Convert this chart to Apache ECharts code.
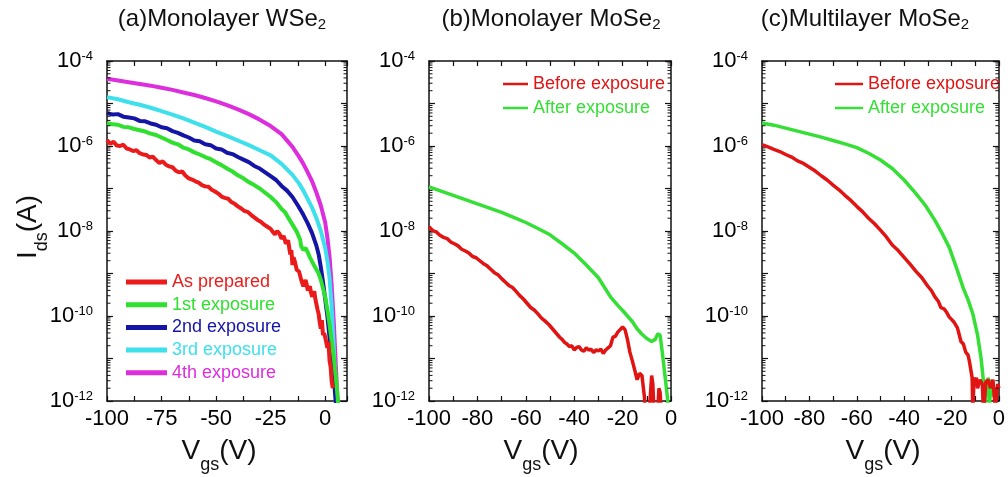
<!DOCTYPE html>
<html><head><meta charset="utf-8">
<script src="https://cdn.jsdelivr.net/npm/echarts@6/dist/echarts.min.js"></script>
<style>html,body{margin:0;padding:0;background:#fff}#c{width:1008px;height:477px}</style>
</head><body><div id="c"></div><script>
// ---- data: [Vgs (V), log10(Ids / A)] ----
// (a) Monolayer WSe2
const aAsPrepared = [[-100,-5.86],[-98.5,-5.95],[-97,-5.9],[-95.5,-5.99],[-94,-6.0],[-92.5,-5.97],[-91,-6.06],[-89.5,-6.08],[-88,-6.12],[-86.5,-6.1],[-85,-6.17],[-83.5,-6.2],[-82,-6.21],[-80.5,-6.27],[-79,-6.25],[-77.5,-6.33],[-76,-6.4],[-74.5,-6.36],[-73,-6.44],[-71.5,-6.48],[-70,-6.5],[-68.5,-6.58],[-67,-6.62],[-65.5,-6.6],[-64,-6.7],[-62.5,-6.76],[-61,-6.79],[-59.5,-6.83],[-58,-6.86],[-56.5,-6.92],[-55,-6.95],[-53.5,-6.96],[-52,-7.03],[-50.5,-7.07],[-49,-7.12],[-47.5,-7.19],[-46,-7.22],[-44.5,-7.24],[-43,-7.32],[-41.5,-7.36],[-40,-7.42],[-38.5,-7.47],[-37,-7.53],[-35.5,-7.55],[-34,-7.62],[-32.5,-7.68],[-31,-7.74],[-29.5,-7.78],[-28,-7.85],[-26.5,-7.9],[-25,-7.95],[-24,-8.02],[-23,-8.08],[-22,-8.0],[-21,-8.06],[-20,-8.18],[-19,-8.12],[-18,-8.3],[-17,-8.22],[-16,-8.55],[-15.5,-8.45],[-15,-8.8],[-14.5,-8.62],[-14,-8.7],[-13,-8.92],[-12,-8.95],[-11.5,-9.05],[-11,-9.15],[-10,-9.3],[-9,-9.15],[-8.5,-9.25],[-8,-9.4],[-7,-9.3],[-6.5,-9.45],[-6,-9.55],[-5,-9.42],[-4.5,-9.6],[-4,-9.62],[-3.5,-9.85],[-3,-9.95],[-2.5,-10.15],[-2,-10.3],[-1.5,-10.1],[-1,-10.45],[-0.5,-10.4],[0,-10.5],[0.5,-10.62],[1,-10.75],[1.5,-10.6],[2,-11.05],[2.5,-11.2],[3,-11.55],[3.5,-11.7]];
const a1stExposure = [[-100,-5.46],[-97.5,-5.49],[-95,-5.5],[-92.5,-5.55],[-90,-5.56],[-87.5,-5.6],[-85,-5.63],[-82.5,-5.66],[-80,-5.71],[-77.5,-5.74],[-75,-5.8],[-72.5,-5.86],[-70,-5.92],[-67.5,-5.96],[-65,-6.04],[-62.5,-6.08],[-60,-6.15],[-57.5,-6.2],[-55,-6.26],[-52.5,-6.31],[-50,-6.38],[-47.5,-6.45],[-45,-6.53],[-42.5,-6.6],[-40,-6.69],[-37.5,-6.76],[-35,-6.85],[-32.5,-6.92],[-30,-7.0],[-27.5,-7.1],[-25,-7.2],[-22.5,-7.32],[-20,-7.48],[-18.5,-7.55],[-17,-7.68],[-15,-7.85],[-13,-8.02],[-11.5,-8.2],[-11,-8.36],[-10,-8.45],[-9,-8.4],[-8,-8.5],[-7,-8.62],[-5,-8.82],[-3,-9.0],[-2,-9.15],[-1,-9.35],[0,-9.55],[1,-9.85],[2,-10.2],[3,-10.6],[4,-11.0],[5,-11.5],[6,-12.1]];
const a2ndExposure = [[-100,-5.22],[-97.5,-5.26],[-95,-5.25],[-92.5,-5.31],[-90,-5.33],[-87.5,-5.35],[-85,-5.41],[-82.5,-5.42],[-80,-5.47],[-77.5,-5.5],[-75,-5.56],[-72.5,-5.58],[-70,-5.65],[-67.5,-5.69],[-65,-5.75],[-62.5,-5.8],[-60,-5.87],[-57.5,-5.89],[-55,-5.96],[-52.5,-5.98],[-50,-6.06],[-47.5,-6.08],[-45,-6.16],[-42.5,-6.19],[-40,-6.26],[-37.5,-6.32],[-35,-6.38],[-32.5,-6.47],[-30,-6.53],[-27.5,-6.62],[-25,-6.71],[-22.5,-6.8],[-20,-6.94],[-17.5,-7.05],[-15,-7.2],[-12.5,-7.4],[-10,-7.62],[-8,-7.82],[-6,-8.05],[-4,-8.35],[-3,-8.55],[-2,-8.85],[-1,-9.2],[0,-9.6],[1,-10.0],[2,-10.5],[3,-11.0],[4,-11.5],[5,-12.1]];
const a3rdExposure = [[-100,-4.85],[-95,-4.9],[-90,-4.97],[-85,-5.03],[-80,-5.1],[-75,-5.18],[-70,-5.26],[-65,-5.35],[-60,-5.45],[-55,-5.55],[-50,-5.66],[-45,-5.76],[-40,-5.87],[-35,-5.98],[-30,-6.1],[-25,-6.22],[-20,-6.42],[-15,-6.68],[-12,-6.88],[-10,-7.05],[-8,-7.25],[-6,-7.45],[-4,-7.7],[-2,-8.0],[0,-8.4],[1,-8.7],[2,-9.1],[3,-9.8],[4,-10.8],[4.5,-11.5],[5,-12.2]];
const a4thExposure = [[-100,-4.42],[-95,-4.46],[-90,-4.5],[-85,-4.54],[-80,-4.58],[-75,-4.63],[-70,-4.68],[-65,-4.74],[-60,-4.8],[-55,-4.87],[-50,-4.95],[-45,-5.04],[-40,-5.14],[-35,-5.25],[-30,-5.38],[-25,-5.53],[-20,-5.72],[-15,-6.02],[-12,-6.25],[-10,-6.42],[-8,-6.62],[-6,-6.83],[-4,-7.1],[-2,-7.4],[0,-7.8],[1,-8.15],[2,-8.6],[3,-9.3],[4,-10.2],[5,-11.3],[6,-12.3]];
// (b) Monolayer MoSe2
const bBefore = [[-100,-7.9],[-98.5,-7.99],[-97,-8.02],[-95.5,-8.1],[-94,-8.15],[-92.5,-8.18],[-91,-8.26],[-89.5,-8.3],[-88,-8.35],[-86.5,-8.43],[-85,-8.47],[-83.5,-8.52],[-82,-8.6],[-80.5,-8.63],[-79,-8.7],[-77.5,-8.77],[-76,-8.82],[-74.5,-8.9],[-73,-8.98],[-71.5,-9.03],[-70,-9.12],[-68.5,-9.2],[-67,-9.28],[-65.5,-9.33],[-64,-9.42],[-62.5,-9.52],[-61,-9.6],[-59.5,-9.7],[-58,-9.8],[-56.5,-9.86],[-55,-9.95],[-53.5,-10.05],[-52,-10.12],[-50.5,-10.2],[-49,-10.3],[-47.5,-10.4],[-46,-10.5],[-45,-10.55],[-44,-10.62],[-43,-10.66],[-42,-10.72],[-41,-10.7],[-40,-10.8],[-39,-10.74],[-38,-10.72],[-37,-10.8],[-36,-10.83],[-35,-10.75],[-34,-10.8],[-33,-10.78],[-32,-10.86],[-31,-10.8],[-30,-10.82],[-29,-10.78],[-28,-10.88],[-27,-10.8],[-26,-10.75],[-25,-10.7],[-24,-10.5],[-23,-10.48],[-22,-10.38],[-21,-10.32],[-20,-10.26],[-19,-10.32],[-18,-10.55],[-17,-10.85],[-16,-11.05],[-15,-11.27],[-14,-11.5],[-13,-11.35],[-12,-11.4],[-11,-11.9],[-10.5,-12.3],[-9,-12.3],[-8,-11.4],[-7.5,-11.6],[-7,-12.3],[-5.5,-12.3],[-5,-11.7],[-4.5,-11.8],[-4,-12.3]];
const bAfter = [[-100,-6.96],[-95,-7.06],[-90,-7.16],[-85,-7.26],[-80,-7.36],[-75,-7.46],[-70,-7.56],[-65,-7.68],[-60,-7.8],[-55,-7.94],[-50,-8.09],[-45,-8.3],[-40,-8.52],[-35,-8.8],[-30,-9.1],[-25,-9.55],[-22,-9.75],[-20,-9.87],[-18,-10.0],[-16,-10.13],[-14,-10.3],[-12,-10.43],[-10,-10.53],[-8,-10.6],[-6.5,-10.55],[-5.5,-10.42],[-4.5,-10.45],[-3.5,-10.9],[-2.5,-11.4],[-1.5,-11.9],[-1,-12.3]];
// (c) Multilayer MoSe2
const cBefore = [[-100,-5.97],[-97.5,-6.02],[-95,-6.08],[-92.5,-6.13],[-90,-6.2],[-87.5,-6.26],[-85,-6.35],[-82.5,-6.41],[-80,-6.5],[-77.5,-6.59],[-75,-6.7],[-72.5,-6.8],[-70,-6.92],[-67.5,-7.03],[-65,-7.16],[-62.5,-7.28],[-60,-7.42],[-57.5,-7.55],[-55,-7.7],[-52.5,-7.83],[-50,-7.98],[-47.5,-8.14],[-45,-8.33],[-42.5,-8.46],[-40,-8.62],[-37.5,-8.78],[-35,-8.95],[-32.5,-9.1],[-30,-9.3],[-28.5,-9.4],[-27,-9.55],[-25.5,-9.66],[-24.5,-9.8],[-23,-9.84],[-22,-9.92],[-21,-10.02],[-20,-10.08],[-19,-10.14],[-17.5,-10.28],[-16,-10.6],[-15,-10.66],[-14,-10.85],[-13,-10.92],[-12.5,-11.05],[-11.3,-11.45],[-11,-12.3],[-10.5,-11.45],[-10,-11.6],[-9.5,-11.45],[-9,-11.7],[-8,-11.5],[-7,-11.6],[-6.5,-12.3],[-5.5,-11.55],[-4.5,-11.5],[-3.5,-11.7],[-2.5,-11.5],[-1.5,-12.2],[-0.5,-11.6],[0,-11.7]];
const cAfter = [[-100,-5.46],[-95,-5.51],[-90,-5.58],[-85,-5.65],[-80,-5.72],[-75,-5.79],[-70,-5.87],[-65,-5.95],[-60,-6.04],[-55,-6.17],[-50,-6.33],[-45,-6.53],[-40,-6.8],[-35,-7.12],[-31,-7.4],[-27,-7.75],[-24,-8.05],[-21,-8.38],[-18,-8.85],[-15,-9.35],[-13,-9.62],[-11,-9.95],[-9,-10.45],[-7.5,-11.0],[-6.5,-11.55],[-6,-12.3],[-5.5,-11.5],[-5,-11.9],[-4.5,-11.45],[-4,-12.2],[-3.5,-11.6],[-3,-11.5],[-2.5,-11.9]];

const titles = ['(a)Monolayer WSe{s|2}', '(b)Monolayer MoSe{s|2}', '(c)Multilayer MoSe{s|2}'];
const legendA = ['As prepared', '1st exposure', '2nd exposure', '3rd exposure', '4th exposure'];
const legendBC = ['Before exposure', 'After exposure'];

// ---- presentation ----
const FONT = '"Liberation Sans", Arial, Helvetica, sans-serif';
const C = {red:'#ec1b1b', green:'#2fe02f', blue:'#1414a6', cyan:'#3ee0ec', magenta:'#dc2edc', red2:'#e11414', green2:'#36df36'};
const toA = arr => arr.map(p => [p[0], Math.pow(10, p[1])]);

const grids = [
  {left:107, top:61, width:240, height:340},
  {left:429, top:61, width:242, height:340},
  {left:762, top:61, width:240, height:340}
];
const xSpec = [
  {min:-100, max:10, interval:12.5, step:25},
  {min:-100, max:0, interval:10, step:20},
  {min:-100, max:0, interval:10, step:20}
];
const axisLine = {onZero:false, lineStyle:{color:'#111', width:1.5}};
const xAxis = [], yAxis = [];
xSpec.forEach((s, g) => {
  const common = {type:'value', gridIndex:g, min:s.min, max:s.max, interval:s.interval, axisLine,
    axisTick:{inside:true, length:5, lineStyle:{color:'#111', width:1.2}}, splitLine:{show:false}};
  xAxis.push(Object.assign({}, common, {position:'bottom', axisLabel:{fontFamily:FONT, fontSize:22, color:'#000', margin:7,
    showMinLabel:true, showMaxLabel:true,
    formatter: v => (Math.abs(v % s.step) < 1e-9 ? String(v) : '')}}));
  xAxis.push(Object.assign({}, common, {position:'top', axisLabel:{show:false}}));
  const yc = {type:'log', logBase:10, gridIndex:g, min:1e-12, max:1e-4, splitNumber:8, axisLine,
    axisTick:{inside:true, length:6, lineStyle:{color:'#111', width:1.2}}, splitLine:{show:false}};
  yAxis.push(Object.assign({}, yc, {position:'left', axisLabel:{fontFamily:FONT, fontSize:22, color:'#000', margin:14,
    showMinLabel:true, showMaxLabel:true,
    formatter: v => { const e = Math.round(Math.log10(v)); return e % 2 === 0 ? '10{sup|' + e + '}' : ''; },
    rich:{sup:{fontFamily:FONT, fontSize:13, color:'#000', verticalAlign:'top'}}}}));
  yAxis.push(Object.assign({}, yc, {position:'right', axisLabel:{show:false}}));
});

const minorVals = [];
for (let e = -12; e < -4; e++) for (let k = 2; k <= 9; k++) minorVals.push(k * Math.pow(10, e));

const series = [];
function line(g, name, data, color, width) {
  series.push({type:'line', name, xAxisIndex:2*g, yAxisIndex:2*g, data:toA(data), showSymbol:false,
    lineStyle:{color, width}, itemStyle:{color}, emphasis:{disabled:true}});
}
line(0, legendA[4], a4thExposure, C.magenta, 4);
line(0, legendA[3], a3rdExposure, C.cyan, 4);
line(0, legendA[2], a2ndExposure, C.blue, 4);
line(0, legendA[1], a1stExposure, C.green, 4);
line(0, legendA[0], aAsPrepared, C.red, 4);
line(1, legendBC[1], bAfter, C.green2, 3.5);
line(1, legendBC[0], bBefore, C.red2, 3.5);
line(2, legendBC[1], cAfter, C.green2, 3.5);
line(2, legendBC[0], cBefore, C.red2, 3.5);
xSpec.forEach((s, g) => {
  series.push({type:'custom', xAxisIndex:2*g, yAxisIndex:2*g, silent:true, z:5,
    data:minorVals.map(v => [s.min, v]),
    renderItem:(params, api) => {
      const y = api.coord([s.min, api.value(1)])[1];
      const cs = params.coordSys;
      const st = {stroke:'#111', lineWidth:1};
      return {type:'group', children:[
        {type:'line', shape:{x1:cs.x, y1:y, x2:cs.x+3.5, y2:y}, style:st},
        {type:'line', shape:{x1:cs.x+cs.width-3.5, y1:y, x2:cs.x+cs.width, y2:y}, style:st}
      ]};
    }});
});

const colA = [C.red, C.green, C.blue, C.cyan, C.magenta];
const legend = [
  {left:126, top:273, orient:'vertical', padding:0, itemGap:4.7, itemWidth:41, itemHeight:5, icon:'rect', selectedMode:false,
   textStyle:{fontFamily:FONT, fontSize:18, lineHeight:18},
   data:legendA.map((n, i) => ({name:n, textStyle:{color:colA[i]}}))},
  {left:503, top:75, orient:'vertical', padding:0, itemGap:6, itemWidth:25, itemHeight:2.5, icon:'rect', selectedMode:false,
   textStyle:{fontFamily:FONT, fontSize:18, lineHeight:18},
   data:[{name:legendBC[0], textStyle:{color:C.red2}}, {name:legendBC[1], textStyle:{color:C.green2}}]},
  {left:835, top:75, orient:'vertical', padding:0, itemGap:6, itemWidth:28, itemHeight:2.5, icon:'rect', selectedMode:false,
   textStyle:{fontFamily:FONT, fontSize:18, lineHeight:18},
   data:[{name:legendBC[0], textStyle:{color:C.red2}}, {name:legendBC[1], textStyle:{color:C.green2}}]}
];

const titleX = [222, 551, 865];
const vTitleX = [219, 541, 883];
const graphic = [];
titles.forEach((t, i) => {
  graphic.push({type:'text', x:titleX[i], y:19, silent:true, style:{text:'{m|' + t.replace('{s|', '}{s|'), fill:'#111',
    align:'center', verticalAlign:'middle',
    rich:{m:{fontFamily:FONT, fontSize:24, lineHeight:24, verticalAlign:'top', fill:'#111'},
          s:{fontFamily:FONT, fontSize:15, lineHeight:15, verticalAlign:'top', padding:[10,0,0,0], fill:'#111'}}}});
  graphic.push({type:'text', x:vTitleX[i], y:451, silent:true, style:{text:'{m|V}{s|gs}{m|(V)}', fill:'#111',
    align:'center', verticalAlign:'middle',
    rich:{m:{fontFamily:FONT, fontSize:28, lineHeight:28, verticalAlign:'top', fill:'#111'},
          s:{fontFamily:FONT, fontSize:18, lineHeight:18, verticalAlign:'top', padding:[19,0,0,0], fill:'#111'}}}});
});
graphic.push({type:'text', x:28, y:227, rotation:Math.PI/2, silent:true, style:{text:'{m|I}{s|ds}{m|(A)}', fill:'#111',
  align:'center', verticalAlign:'middle',
  rich:{m:{fontFamily:FONT, fontSize:28, lineHeight:28, verticalAlign:'top', fill:'#111'},
        s:{fontFamily:FONT, fontSize:18, lineHeight:18, verticalAlign:'top', padding:[19,0,0,0], fill:'#111'}}}});

const chart = echarts.init(document.getElementById('c'));
chart.setOption({animation:false, backgroundColor:'#fff', grid:grids, xAxis, yAxis, series, legend, graphic});
</script></body></html>
